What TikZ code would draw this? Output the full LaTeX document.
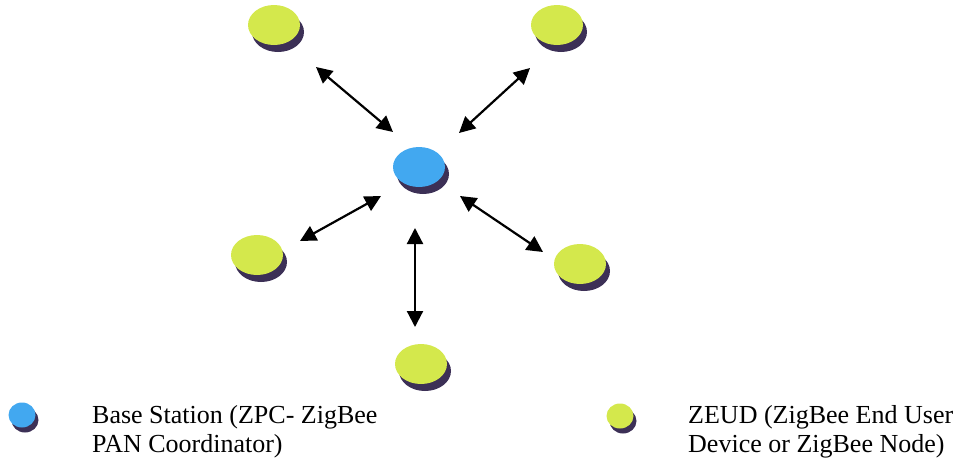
\documentclass[tikz,border=0pt]{standalone}
\usepackage{fontspec}
\setmainfont{Liberation Serif}
\usetikzlibrary{arrows.meta,shadows,shapes.geometric}
\definecolor{zgreen}{RGB}{212,232,76}
\definecolor{zblue}{RGB}{66,168,240}
\definecolor{zshadow}{RGB}{60,48,86}
\begin{document}
\begin{tikzpicture}[x=1pt,y=-1pt,
  dev/.style={ellipse,minimum width=52pt,minimum height=40pt,inner sep=0pt,
    fill=zgreen,draw=none,
    drop shadow={shadow xshift=4pt,shadow yshift=-7pt,fill=zshadow,opacity=1}},
  pan/.style={dev,fill=zblue},
  legdev/.style={ellipse,minimum width=27pt,minimum height=25pt,inner sep=0pt,
    fill=zgreen,draw=none,
    drop shadow={shadow xshift=3pt,shadow yshift=-5pt,fill=zshadow,opacity=1}},
  legpan/.style={legdev,fill=zblue},
  link/.style={{Triangle[length=16pt,width=16pt]}-{Triangle[length=16pt,width=16pt]},line width=2.2pt,black},
  legtext/.style={anchor=base west,inner sep=0pt,font=\fontsize{26}{29}\selectfont}
]
\useasboundingbox (0,0) rectangle (963,461);
\node[dev] (tl) at (274,25) {};
\node[dev] (tr) at (557,25) {};
\node[pan] (bs) at (419,167) {};
\node[dev] (lf) at (257,255) {};
\node[dev] (rt) at (580,264) {};
\node[dev] (bt) at (421,364) {};

\coordinate (a1) at (316,67);  \coordinate (b1) at (393,132);
\coordinate (a2) at (530,68);  \coordinate (b2) at (459,133);
\coordinate (a3) at (300,241); \coordinate (b3) at (381,196);
\coordinate (a4) at (543,252); \coordinate (b4) at (460,196);
\coordinate (a5) at (415,327); \coordinate (b5) at (415,228);
\draw[link] (a1) -- (b1);
\draw[link] (a2) -- (b2);
\draw[link] (a3) -- (b3);
\draw[link] (a4) -- (b4);
\draw[link] (a5) -- (b5);

\node[legpan] (lbs) at (22,415) {};
\node[legdev] (ldev) at (620,416) {};
\node[legtext] (t1) at (92,423) {Base Station (ZPC- ZigBee};
\node[legtext] (t2) at (92,452) {PAN Coordinator)};
\node[legtext] (t3) at (688,423) {ZEUD (ZigBee End User};
\node[legtext] (t4) at (688,452) {Device or ZigBee Node)};
\end{tikzpicture}
\end{document}
